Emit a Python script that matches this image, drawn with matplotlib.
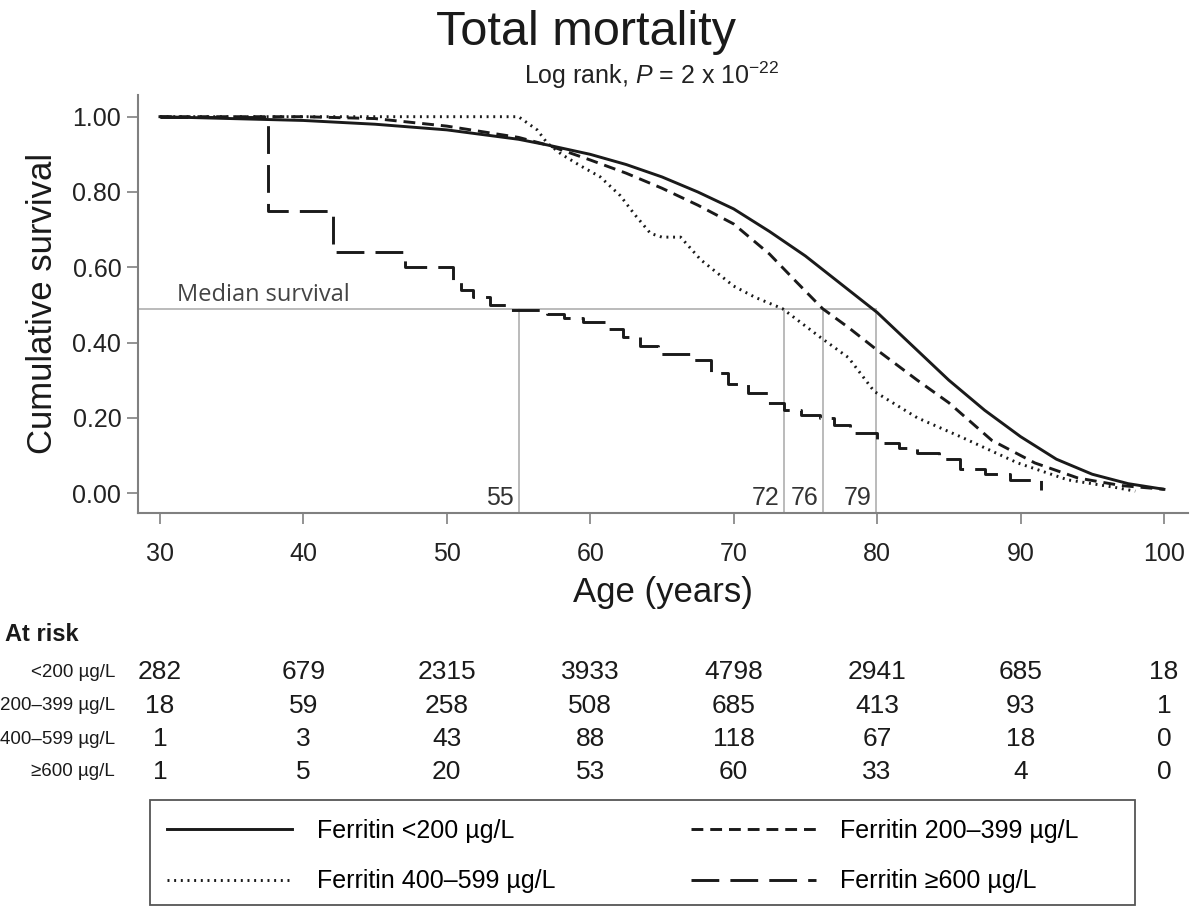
import matplotlib
matplotlib.use("Agg")
import matplotlib.pyplot as plt
from matplotlib.patches import Rectangle
from matplotlib.transforms import blended_transform_factory

plt.rcParams['font.family'] = ['Liberation Sans', 'DejaVu Sans']
plt.rcParams['mathtext.fontset'] = 'custom'
plt.rcParams['mathtext.rm'] = 'Liberation Sans'
plt.rcParams['mathtext.it'] = 'Liberation Sans:italic'
plt.rcParams['lines.scale_dashes'] = False

# survival curves
age_lt200 = [30, 35, 40, 45, 50, 55, 57, 60, 62.5, 65, 67.5, 70, 72.5, 75, 77.5,
             80, 82.5, 85, 87.5, 90, 92.5, 95, 97.5, 100]
surv_lt200 = [1.0, 0.995, 0.99, 0.98, 0.965, 0.94, 0.925, 0.9, 0.873, 0.84, 0.80,
              0.755, 0.695, 0.63, 0.555, 0.48, 0.39, 0.30, 0.22, 0.15, 0.09, 0.05, 0.025, 0.01]

age_200_399 = [30, 40, 45, 50, 55, 57, 60, 62.5, 65, 67.5, 70, 72.5, 74.4, 76.2, 78,
               80, 82.8, 85, 88, 91, 94, 97, 100]
surv_200_399 = [1.0, 1.0, 0.995, 0.975, 0.945, 0.925, 0.885, 0.85, 0.81, 0.765, 0.715,
                0.635, 0.56, 0.49, 0.44, 0.38, 0.30, 0.24, 0.14, 0.08, 0.04, 0.02, 0.01]

age_400_599 = [30, 50, 53.7, 55, 56.3, 57, 58, 59.3, 60.7, 62.1, 63.1, 64.2, 65, 66.3,
               67.7, 70, 71.5, 73.4, 76, 78, 79.8, 82.8, 85.8, 89.8, 93.3, 96.6, 98]
surv_400_599 = [1.0, 1.0, 1.0, 1.0, 0.965, 0.93, 0.9, 0.87, 0.84, 0.79, 0.74, 0.69,
                0.68, 0.68, 0.62, 0.55, 0.52, 0.49, 0.415, 0.36, 0.27, 0.20, 0.15,
                0.08, 0.035, 0.015, 0.005]

age_ge600 = [30, 37.5, 42.1, 47.1, 50.4, 51.0, 51.8, 53.0, 54.2, 57.0, 58.2, 59.5, 61.0,
             62.3, 63.5, 64.7, 67.2, 68.4, 69.6, 71.0, 72.4, 73.5, 74.7, 76.0, 77.0,
             78.1, 80.0, 81.5, 82.8, 84.3, 85.8, 87.5, 89.3, 91.4]
surv_ge600 = [1.0, 0.75, 0.64, 0.60, 0.56, 0.54, 0.52, 0.50, 0.487, 0.475, 0.465, 0.455,
              0.435, 0.415, 0.39, 0.37, 0.354, 0.32, 0.29, 0.265, 0.24, 0.22, 0.207,
              0.20, 0.18, 0.16, 0.133, 0.12, 0.106, 0.09, 0.065, 0.05, 0.035, 0.008]

median_level = 0.49
median_ages = [55.0, 73.5, 76.2, 79.9]
median_labels = ['55', '72', '76', '79']

group_labels = ['Ferritin <200 \u00b5g/L', 'Ferritin 200\u2013399 \u00b5g/L',
                'Ferritin 400\u2013599 \u00b5g/L', 'Ferritin \u2265600 \u00b5g/L']
row_labels = ['<200 \u00b5g/L', '200\u2013399 \u00b5g/L', '400\u2013599 \u00b5g/L',
              '\u2265600 \u00b5g/L']
risk_ages = [30, 40, 50, 60, 70, 80, 90, 100]
risk_lt200 = [282, 679, 2315, 3933, 4798, 2941, 685, 18]
risk_200_399 = [18, 59, 258, 508, 685, 413, 93, 1]
risk_400_599 = [1, 3, 43, 88, 118, 67, 18, 0]
risk_ge600 = [1, 5, 20, 53, 60, 33, 4, 0]

ytick_vals = [0, 0.2, 0.4, 0.6, 0.8, 1.0]
xtick_vals = [30, 40, 50, 60, 70, 80, 90, 100]

fig = plt.figure(figsize=(11.99, 9.07), dpi=100)
ax = fig.add_axes([0.1151, 0.4344, 0.876, 0.461])

ink = '#1a1a1a'
grey = '#808080'
ref = '#b5b5b5'

x_lo, x_hi = 28.47, 101.7
y_lo, y_hi = -0.053, 1.058

# median survival reference lines
ax.plot([x_lo, median_ages[-1]], [median_level, median_level], color=ref, lw=1.3, zorder=1)
for a, lab in zip(median_ages, median_labels):
    ax.plot([a, a], [y_lo, median_level], color=ref, lw=1.3, zorder=1)
    ax.text(a - 0.3, -0.012, lab, ha='right', va='center', fontsize=18, color='#333333')
ax.text(31.2, median_level + 0.004, 'Median survival', fontsize=17, color='#444444',
        family=['Open Sans', 'DejaVu Sans'], va='bottom')

l1, = ax.plot(age_lt200, surv_lt200, color=ink, lw=2.1, label=group_labels[0])
l2, = ax.plot(age_200_399, surv_200_399, color=ink, lw=2.1, dashes=(8.5, 5),
              label=group_labels[1])
l3, = ax.plot(age_400_599, surv_400_599, color=ink, lw=2.1, dashes=(1.4, 3.4),
              label=group_labels[2])
l4, = ax.plot(age_ge600, surv_ge600, color=ink, lw=2.1, dashes=(20, 8),
              drawstyle='steps-post', label=group_labels[3])

ax.set_xlim(x_lo, x_hi)
ax.set_ylim(y_lo, y_hi)
ax.set_xticks(xtick_vals)
ax.set_yticks(ytick_vals)
ax.set_yticklabels(['%.2f' % v for v in ytick_vals])
for s in ['top', 'right']:
    ax.spines[s].set_visible(False)
for s in ['left', 'bottom']:
    ax.spines[s].set_color(grey)
    ax.spines[s].set_linewidth(1.5)
ax.tick_params(direction='out', length=8, width=1.2, color=grey, labelsize=18,
               labelcolor='#222222')
ax.tick_params(axis='x', pad=13)
ax.tick_params(axis='y', pad=4)
ax.set_xlabel('Age (years)', fontsize=25, color=ink, labelpad=7)
ax.set_ylabel('Cumulative survival', fontsize=25, color=ink, labelpad=10)

fig.text(0.489, 0.964, 'Total mortality', fontsize=35, ha='center', va='center', color=ink)
fig.text(0.544, 0.917, r'Log rank, $P$ = 2 x 10$^{-22}$', fontsize=18, ha='center',
         va='center', color='#222222')

# numbers at risk table
tr = blended_transform_factory(ax.transData, fig.transFigure)
fig.text(0.004, 0.300, 'At risk', fontsize=17, fontweight='bold', ha='left',
         va='center', color=ink)
rows = [risk_lt200, risk_200_399, risk_400_599, risk_ge600]
row_y = [0.259, 0.222, 0.185, 0.149]
for lab, vals, yy in zip(row_labels, rows, row_y):
    fig.text(0.096, yy, lab, fontsize=13.5, ha='right', va='center', color=ink)
    for a, v in zip(risk_ages, vals):
        ax.text(a, yy, str(v), transform=tr, fontsize=19, ha='center', va='center',
                color=ink, clip_on=False)

# legend box drawn separately so the columns can sit where the reference has them
fig.patches.append(Rectangle((150 / 1199, 0.002), 985 / 1199, 0.116,
                             transform=fig.transFigure, fill=False,
                             edgecolor='#555555', lw=1.3))
leg = fig.legend([l1, l3, l2, l4], [group_labels[0], group_labels[2], group_labels[1],
                 group_labels[3]], ncol=2, loc='upper left',
                 bbox_to_anchor=(167 / 1199, 0.097), borderaxespad=0, borderpad=0,
                 fontsize=18, handlelength=5, handletextpad=1.0, columnspacing=5.4,
                 labelspacing=1.05, frameon=False)

fig.savefig('out.png', dpi=100)
